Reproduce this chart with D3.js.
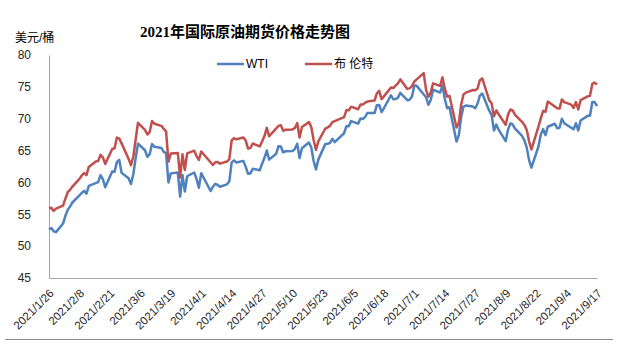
<!DOCTYPE html>
<html>
<head>
<meta charset="utf-8">
<script src="https://cdn.jsdelivr.net/npm/d3@7"></script>
<style>
  body { margin: 0; background: #fff; }
  svg { display: block; font-family: "Liberation Sans", "Noto Sans CJK SC", sans-serif; }
</style>
</head>
<body>
<div id="chart"></div>
<script>
const width = 635;
const height = 362;

// WTI settlement prices (NYMEX trading days)
const wtiDates = [
  '1/26','1/27','1/28','1/29',
  '2/1','2/2','2/3','2/4','2/5','2/8','2/9','2/10','2/11','2/12','2/16','2/17','2/18','2/19','2/22','2/23','2/24','2/25','2/26',
  '3/1','3/2','3/3','3/4','3/5','3/8','3/9','3/10','3/11','3/12','3/15','3/16','3/17','3/18','3/19','3/22','3/23','3/24','3/25','3/26','3/29','3/30','3/31',
  '4/1','4/5','4/6','4/7','4/8','4/9','4/12','4/13','4/14','4/15','4/16','4/19','4/20','4/21','4/22','4/23','4/26','4/27','4/28','4/29','4/30',
  '5/3','5/4','5/5','5/6','5/7','5/10','5/11','5/12','5/13','5/14','5/17','5/18','5/19','5/20','5/21','5/24','5/25','5/26','5/27','5/28',
  '6/1','6/2','6/3','6/4','6/7','6/8','6/9','6/10','6/11','6/14','6/15','6/16','6/17','6/18','6/21','6/22','6/23','6/24','6/25','6/28','6/29','6/30',
  '7/1','7/2','7/6','7/7','7/8','7/9','7/12','7/13','7/14','7/15','7/16','7/19','7/20','7/21','7/22','7/23','7/26','7/27','7/28','7/29','7/30',
  '8/2','8/3','8/4','8/5','8/6','8/9','8/10','8/11','8/12','8/13','8/16','8/17','8/18','8/19','8/20','8/23','8/24','8/25','8/26','8/27','8/30','8/31',
  '9/1','9/2','9/3','9/7','9/8','9/9','9/10','9/13','9/14','9/15','9/16','9/17'
];
const wtiValues = [
  52.61,52.85,52.34,52.20,
  53.55,54.76,55.69,56.23,56.85,57.97,58.36,58.68,58.24,59.47,60.05,61.14,60.52,59.24,61.70,61.67,63.22,63.53,61.50,
  60.64,59.75,61.28,63.83,66.09,65.05,64.01,64.44,66.02,65.61,65.39,64.80,64.60,60.00,61.42,61.55,57.76,61.18,58.56,60.97,61.56,60.55,59.16,
  61.45,58.65,59.33,59.77,59.60,59.32,59.70,60.18,63.15,63.46,63.13,63.38,62.44,61.35,61.43,62.14,61.91,62.94,63.86,65.01,63.58,
  64.49,65.69,65.63,64.71,64.90,64.92,65.28,66.08,63.82,65.37,66.27,65.49,63.36,62.05,63.58,66.05,66.07,66.21,66.85,66.32,
  67.72,68.83,68.81,69.62,69.23,70.05,69.96,70.29,70.91,70.88,72.12,72.15,71.04,71.64,73.66,73.06,73.08,73.30,74.05,72.91,72.98,73.47,
  75.23,75.16,73.37,72.20,72.94,74.56,74.10,75.25,73.13,71.65,71.81,66.42,67.42,70.30,71.91,72.07,71.91,71.65,72.39,73.62,73.95,
  71.26,70.56,68.15,69.09,68.28,66.48,68.29,69.25,69.09,68.44,67.29,66.59,65.46,63.50,62.32,65.64,67.54,68.36,67.42,68.74,69.21,68.50,
  68.59,69.99,69.29,68.35,69.30,68.14,69.72,70.45,70.46,72.61,72.61,71.97
];

// Brent settlement prices (ICE trading days)
const brentDates = [
  '1/26','1/27','1/28','1/29',
  '2/1','2/2','2/3','2/4','2/5','2/8','2/9','2/10','2/11','2/12','2/15','2/16','2/17','2/18','2/19','2/22','2/23','2/24','2/25','2/26',
  '3/1','3/2','3/3','3/4','3/5','3/8','3/9','3/10','3/11','3/12','3/15','3/16','3/17','3/18','3/19','3/22','3/23','3/24','3/25','3/26','3/29','3/30','3/31',
  '4/1','4/6','4/7','4/8','4/9','4/12','4/13','4/14','4/15','4/16','4/19','4/20','4/21','4/22','4/23','4/26','4/27','4/28','4/29','4/30',
  '5/4','5/5','5/6','5/7','5/10','5/11','5/12','5/13','5/14','5/17','5/18','5/19','5/20','5/21','5/24','5/25','5/26','5/27','5/28',
  '6/1','6/2','6/3','6/4','6/7','6/8','6/9','6/10','6/11','6/14','6/15','6/16','6/17','6/18','6/21','6/22','6/23','6/24','6/25','6/28','6/29','6/30',
  '7/1','7/2','7/5','7/6','7/7','7/8','7/9','7/12','7/13','7/14','7/15','7/16','7/19','7/20','7/21','7/22','7/23','7/26','7/27','7/28','7/29','7/30',
  '8/2','8/3','8/4','8/5','8/6','8/9','8/10','8/11','8/12','8/13','8/16','8/17','8/18','8/19','8/20','8/23','8/24','8/25','8/26','8/27','8/31',
  '9/1','9/2','9/3','9/6','9/7','9/8','9/9','9/10','9/13','9/14','9/15','9/16','9/17'
];
const brentValues = [
  55.91,56.03,55.53,55.88,
  56.35,57.46,58.46,58.84,59.34,60.56,61.09,61.47,61.14,62.43,63.30,63.35,64.34,63.93,62.91,65.24,65.37,67.04,66.88,66.13,
  63.69,62.70,64.07,66.74,69.36,68.24,67.52,67.90,69.63,69.22,68.88,68.39,68.00,63.28,64.53,64.62,60.79,64.41,61.95,64.57,64.98,64.14,63.54,
  64.86,62.74,63.16,63.20,62.95,63.28,63.67,66.58,66.94,66.77,67.05,66.57,65.32,65.40,66.11,65.65,66.42,67.27,68.56,67.25,
  68.88,68.96,68.09,68.28,68.32,68.55,69.32,67.05,68.71,69.46,68.71,66.66,65.11,66.44,68.46,68.65,68.87,69.46,69.63,
  70.25,71.35,71.31,71.89,71.49,72.22,72.22,72.52,72.69,72.86,73.99,74.39,73.08,73.51,74.90,74.81,75.19,75.56,76.18,74.68,74.76,75.13,
  75.84,76.17,77.16,74.53,73.43,74.12,75.55,75.16,76.49,74.76,73.47,73.59,68.62,69.35,72.23,73.79,74.10,74.50,74.48,74.74,76.05,76.33,
  72.89,72.41,70.38,71.29,70.70,69.04,70.63,71.44,71.31,70.59,69.51,69.03,68.23,66.45,65.18,68.75,70.05,71.25,71.07,72.70,71.63,
  71.59,73.03,72.61,72.22,71.69,72.60,71.45,72.92,73.51,73.60,75.46,75.67,75.34
];

const yTicks = [45, 50, 55, 60, 65, 70, 75, 80];
const xTickLabels = ['2021/1/26','2021/2/8','2021/2/21','2021/3/6','2021/3/19','2021/4/1','2021/4/14','2021/4/27',
  '2021/5/10','2021/5/23','2021/6/5','2021/6/18','2021/7/1','2021/7/14','2021/7/27','2021/8/9','2021/8/22','2021/9/4','2021/9/17'];

const parseMD = s => { const [m, d] = s.split('/').map(Number); return new Date(2021, m - 1, d); };
const parseFull = d3.timeParse('%Y/%m/%d');

const wti = wtiDates.map((d, i) => ({ date: parseMD(d), value: wtiValues[i] }));
const brent = brentDates.map((d, i) => ({ date: parseMD(d), value: brentValues[i] }));

const plot = { left: 49, right: 597, top: 55, bottom: 278 };

const x = d3.scaleTime()
  .domain([parseFull('2021/1/26'), parseFull('2021/9/17')])
  .range([plot.left, plot.right]);

const y = d3.scaleLinear()
  .domain([45, 80])
  .range([plot.bottom, plot.top]);

const svg = d3.select('#chart')
  .append('svg')
  .attr('width', width)
  .attr('height', height)
  .attr('viewBox', '0 0 ' + width + ' ' + height);

// title + unit
svg.append('text')
  .attr('x', 245)
  .attr('y', 37)
  .attr('text-anchor', 'middle')
  .style('font-family', '"Liberation Serif", "Noto Sans CJK SC", serif')
  .style('font-weight', 'bold')
  .style('font-size', '15px')
  .attr('fill', '#000')
  .text('2021年国际原油期货价格走势图');

svg.append('text')
  .attr('x', 15)
  .attr('y', 42)
  .style('font-size', '12px')
  .attr('fill', '#000')
  .text('美元/桶');

// y axis
const yAxis = d3.axisLeft(y).tickValues(yTicks).tickSize(0).tickPadding(18);
const gy = svg.append('g')
  .attr('transform', 'translate(' + plot.left + ',0)')
  .call(yAxis);
gy.select('.domain').attr('stroke', '#a6a6a6').attr('stroke-width', 1);
gy.selectAll('text').style('font-size', '12px').attr('fill', '#262626');

// x axis
const xAxis = d3.axisBottom(x)
  .tickValues(xTickLabels.map(parseFull))
  .tickSize(0)
  .tickFormat((d, i) => xTickLabels[i]);
const gx = svg.append('g')
  .attr('transform', 'translate(0,' + plot.bottom + ')')
  .call(xAxis);
gx.select('.domain').attr('stroke', '#a6a6a6').attr('stroke-width', 1);
gx.selectAll('text')
  .style('font-size', '11.5px')
  .attr('fill', '#262626')
  .attr('text-anchor', 'end')
  .attr('dy', null)
  .attr('y', 0)
  .attr('transform', 'translate(5,16) rotate(-45)');

// lower frame line
svg.append('line')
  .attr('x1', 5).attr('x2', 613)
  .attr('y1', 339.5).attr('y2', 339.5)
  .attr('stroke', '#8c8c8c');

// series
const line = d3.line()
  .x(d => x(d.date))
  .y(d => y(d.value));

const series = [
  { name: 'WTI', data: wti, color: '#4f81bd' },
  { name: '布 伦特', data: brent, color: '#c0504d' }
];

svg.selectAll('.series')
  .data(series)
  .enter()
  .append('path')
  .attr('class', 'series')
  .attr('fill', 'none')
  .attr('stroke', d => d.color)
  .attr('stroke-width', 2.5)
  .attr('stroke-linejoin', 'round')
  .attr('d', d => line(d.data));

// legend
const legend = svg.selectAll('.legend')
  .data(series)
  .enter()
  .append('g')
  .attr('class', 'legend')
  .attr('transform', (d, i) => 'translate(' + (217 + i * 88) + ',64)');

legend.append('line')
  .attr('x1', 0).attr('x2', 27)
  .attr('stroke', d => d.color)
  .attr('stroke-width', 2.5);

legend.append('text')
  .attr('x', 29)
  .attr('dy', '0.35em')
  .style('font-size', '12px')
  .attr('fill', '#000')
  .text(d => d.name);
</script>
</body>
</html>
